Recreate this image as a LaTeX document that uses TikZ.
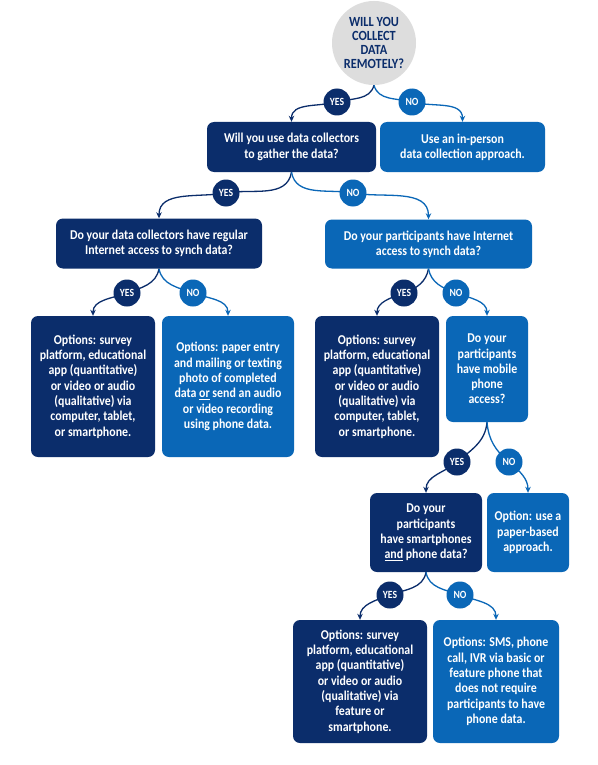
\documentclass[tikz,border=0pt]{standalone}
\usepackage{fontspec}
\setmainfont{Carlito}[FakeStretch=0.88]
\usetikzlibrary{arrows.meta,backgrounds}
\definecolor{navy}{HTML}{0B2D6B}
\definecolor{lblue}{HTML}{0A67B7}
\definecolor{cgray}{HTML}{DDDDDD}
\begin{document}
\begin{tikzpicture}[x=1pt,y=1pt,
  box/.style={rectangle,rounded corners=7pt,text=white,align=center,inner sep=1pt,
    font=\bfseries\fontsize{13.5}{15.3}\selectfont},
  dbox/.style={box,fill=navy},
  lbox/.style={box,fill=lblue},
  lab/.style={circle,minimum size=27pt,inner sep=0pt,text=white,
    font=\bfseries\fontsize{11}{11}\selectfont},
  ylab/.style={lab,fill=navy},
  nlab/.style={lab,fill=lblue},
  yconn/.style={draw=navy,line width=1.3pt,-{Stealth[length=6pt,width=5.5pt]}},
  nconn/.style={draw=lblue,line width=1.3pt,-{Stealth[length=6pt,width=5.5pt]}}
]
\useasboundingbox (0,0) rectangle (597,-765);

% start question
\node[circle,fill=cgray,minimum size=84pt,inner sep=0pt,text=navy,align=center,
  font=\bfseries\fontsize{14}{13.7}\selectfont] (q) at (374,-43)
  {WILL YOU\\COLLECT\\DATA\\REMOTELY?};

% boxes
\node[dbox,minimum width=169pt,minimum height=50pt] (b1) at (291.5,-147)
  {Will you use data collectors\\to gather the data?};
\node[lbox,minimum width=165pt,minimum height=50pt] (b2) at (462.5,-147)
  {Use an in-person\\data collection approach.};
\node[dbox,minimum width=206pt,minimum height=50pt] (b3) at (159,-243.5)
  {Do your data collectors have regular\\Internet access to synch data?};
\node[lbox,minimum width=207pt,minimum height=49pt] (b4) at (428.5,-244)
  {Do your participants have Internet\\access to synch data?};
\node[dbox,minimum width=124pt,minimum height=141pt] (b5) at (93,-386.5)
  {Options: survey\\platform, educational\\app (quantitative)\\or video or audio\\(qualitative) via\\computer, tablet,\\or smartphone.};
\node[lbox,minimum width=132pt,minimum height=141pt] (b6) at (228,-386.5)
  {Options: paper entry\\and mailing or texting\\photo of completed\\data \underline{or} send an audio\\or video recording\\using phone data.};
\node[dbox,minimum width=124pt,minimum height=141pt] (b7) at (377,-386.5)
  {Options: survey\\platform, educational\\app (quantitative)\\or video or audio\\(qualitative) via\\computer, tablet,\\or smartphone.};
\node[lbox,minimum width=82pt,minimum height=106pt] (b8) at (487,-369)
  {Do your\\participants\\have mobile\\phone\\access?};
\node[dbox,minimum width=112pt,minimum height=79pt] (b9) at (426,-532.5)
  {Do your\\participants\\have smartphones\\\underline{and} phone data?};
\node[lbox,minimum width=82pt,minimum height=79pt] (b10) at (528,-532.5)
  {Option: use a\\paper-based\\approach.};
\node[dbox,minimum width=134pt,minimum height=123pt] (b11) at (360,-681.5)
  {Options: survey\\platform, educational\\app (quantitative)\\or video or audio\\(qualitative) via\\feature or\\smartphone.};
\node[lbox,minimum width=126pt,minimum height=123pt] (b12) at (496,-681.5)
  {Options: SMS, phone\\call, IVR via basic or\\feature phone that\\does not require\\participants to have\\phone data.};

% labels
\node[ylab] (y1) at (337,-102) {YES};
\node[nlab] (n1) at (412,-102) {NO};
\node[ylab] (y2) at (226,-193) {YES};
\node[nlab] (n2) at (353,-193) {NO};
\node[ylab] (y3) at (127,-293) {YES};
\node[nlab] (n3) at (193,-293) {NO};
\node[ylab] (y4) at (404,-293) {YES};
\node[nlab] (n4) at (456,-293) {NO};
\node[ylab] (y5) at (457,-462) {YES};
\node[nlab] (n5) at (509,-462) {NO};
\node[ylab] (y6) at (390,-595) {YES};
\node[nlab] (n6) at (460,-595) {NO};

% connectors
\begin{scope}[on background layer]
\fill[white] (0,0) rectangle (597,-765);
\draw[yconn] (q.south) to[out=-105,in=15] (y1.center) to[out=195,in=90] (b1.north);
\draw[nconn] (q.south) to[out=-75,in=165] (n1.center) to[out=-15,in=90] (b2.north);
\draw[yconn] (b1.south) to[out=-100,in=10] (y2.center) to[out=190,in=90] (b3.north);
\draw[nconn] (b1.south) to[out=-80,in=170] (n2.center) to[out=-10,in=90] (b4.north);
\draw[yconn] (b3.south) to[out=-100,in=20] (y3.center) to[out=200,in=90] (b5.north);
\draw[nconn] (b3.south) to[out=-80,in=160] (n3.center) to[out=-20,in=90] (b6.north);
\draw[yconn] (b4.south) to[out=-100,in=20] (y4.center) to[out=200,in=90] (b7.north);
\draw[nconn] (b4.south) to[out=-80,in=160] (n4.center) to[out=-20,in=90] (b8.north);
\draw[yconn] (b8.south) to[out=-95,in=40] (y5.center) to[out=220,in=90] (b9.north);
\draw[nconn] (b8.south) to[out=-85,in=140] (n5.center) to[out=-40,in=90] (b10.north);
\draw[yconn] (b9.south) to[out=-100,in=20] (y6.center) to[out=200,in=90] (b11.north);
\draw[nconn] (b9.south) to[out=-80,in=160] (n6.center) to[out=-20,in=90] (b12.north);
\end{scope}
\end{tikzpicture}
\end{document}
